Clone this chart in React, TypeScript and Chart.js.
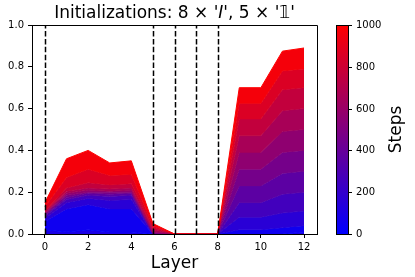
import React, { useEffect, useRef } from "react";
import { Chart, registerables } from "chart.js";

Chart.register(...registerables);

// ---- data ----
const LAYERS = [0, 1, 2, 3, 4, 5, 6, 7, 8, 9, 10, 11, 12];
const STEPS = [0, 100, 200, 300, 400, 500, 600, 700, 800, 900, 1000];

// one profile (value per layer) for each training-step snapshot
const STEP_0 = [0.02, 0.01, 0.02, 0.01, 0.01, 0, 0, 0, 0, 0.0, 0.0, 0.0, 0.01];
const STEP_100 = [0.06, 0.12, 0.14, 0.12, 0.12, 0, 0, 0, 0, 0.02, 0.02, 0.03, 0.04];
const STEP_200 = [0.075, 0.15, 0.17, 0.16, 0.165, 0, 0, 0, 0, 0.08, 0.08, 0.1, 0.11];
const STEP_300 = [0.085, 0.165, 0.185, 0.18, 0.185, 0, 0, 0, 0, 0.15, 0.15, 0.19, 0.2];
const STEP_400 = [0.09, 0.175, 0.195, 0.19, 0.195, 0, 0, 0, 0, 0.23, 0.23, 0.29, 0.3];
const STEP_500 = [0.095, 0.185, 0.2, 0.2, 0.2, 0.005, 0, 0, 0, 0.31, 0.31, 0.39, 0.4];
const STEP_600 = [0.1, 0.195, 0.21, 0.205, 0.21, 0.01, 0, 0, 0, 0.39, 0.39, 0.49, 0.5];
const STEP_700 = [0.105, 0.205, 0.22, 0.215, 0.22, 0.02, 0, 0, 0, 0.47, 0.47, 0.59, 0.6];
const STEP_800 = [0.11, 0.22, 0.245, 0.235, 0.24, 0.03, 0, 0, 0, 0.55, 0.55, 0.69, 0.7];
const STEP_900 = [0.13, 0.27, 0.31, 0.28, 0.285, 0.04, 0, 0, 0, 0.625, 0.625, 0.78, 0.79];
const STEP_1000 = [0.15, 0.36, 0.4, 0.34, 0.35, 0.05, 0, 0, 0, 0.7, 0.7, 0.875, 0.89];

const PROFILES = [
  STEP_0, STEP_100, STEP_200, STEP_300, STEP_400, STEP_500,
  STEP_600, STEP_700, STEP_800, STEP_900, STEP_1000,
];

const X_TICKS = [0, 2, 4, 6, 8, 10, 12];
const Y_TICKS = [0, 0.2, 0.4, 0.6, 0.8, 1.0];
const CBAR_TICKS = [0, 200, 400, 600, 800, 1000];
const DASHED_LAYERS = [0, 5, 6, 7, 8];
const MAX_STEP = 1000;

const FONT = "'DejaVu Sans', sans-serif";

function cmap(t: number): string {
  const c = Math.max(0, Math.min(1, t));
  return `rgb(${Math.round(255 * c)},0,${Math.round(255 * (1 - c))})`;
}

const decorPlugin = {
  id: "decor",
  afterDatasetsDraw(chart: any) {
    const { ctx, chartArea, scales } = chart;
    const xs = scales.x;
    ctx.save();
    ctx.beginPath();
    ctx.rect(chartArea.left, chartArea.top, chartArea.right - chartArea.left, chartArea.bottom - chartArea.top);
    ctx.clip();
    ctx.strokeStyle = "#000";
    ctx.lineWidth = 1.5;
    ctx.setLineDash([5.5, 2.4]);
    for (const l of DASHED_LAYERS) {
      const px = Math.round(xs.getPixelForValue(l)) + 0.5;
      ctx.beginPath();
      ctx.moveTo(px, chartArea.bottom);
      ctx.lineTo(px, chartArea.top);
      ctx.stroke();
    }
    ctx.restore();
  },
  afterDraw(chart: any) {
    const { ctx, chartArea } = chart;
    ctx.save();
    // top & right spines
    ctx.strokeStyle = "#000";
    ctx.lineWidth = 1;
    ctx.beginPath();
    ctx.moveTo(chartArea.left, chartArea.top + 0.5);
    ctx.lineTo(chartArea.right + 0.5, chartArea.top + 0.5);
    ctx.lineTo(chartArea.right + 0.5, chartArea.bottom);
    ctx.stroke();

    // title
    const cx = (chartArea.left + chartArea.right) / 2;
    const parts: [string, string][] = [
      ["Initializations: 8 × '", "normal"],
      ["I", "italic"],
      ["', 5 × '", "normal"],
      ["\u{1D7D9}", "normal"],
      ["'", "normal"],
    ];
    ctx.fillStyle = "#000";
    ctx.textBaseline = "alphabetic";
    ctx.textAlign = "left";
    let total = 0;
    const widths: number[] = [];
    for (const [s, st] of parts) {
      ctx.font = `${st} 17px ${FONT}`;
      const w = ctx.measureText(s).width;
      widths.push(w);
      total += w;
    }
    let x = cx - total / 2;
    parts.forEach(([s, st], i) => {
      ctx.font = `${st} 17px ${FONT}`;
      ctx.fillText(s, x, 18);
      x += widths[i];
    });

    // x label
    ctx.font = `17px ${FONT}`;
    ctx.textAlign = "center";
    ctx.fillText("Layer", cx, 268);

    // colorbar
    const cbL = 336, cbR = 348, cbT = chartArea.top, cbB = chartArea.bottom;
    const g = ctx.createLinearGradient(0, cbB, 0, cbT);
    g.addColorStop(0, cmap(0));
    g.addColorStop(0.5, cmap(0.5));
    g.addColorStop(1, cmap(1));
    ctx.fillStyle = g;
    ctx.fillRect(cbL, cbT, cbR - cbL, cbB - cbT);
    ctx.strokeStyle = "#000";
    ctx.lineWidth = 1;
    ctx.strokeRect(cbL + 0.5, cbT + 0.5, cbR - cbL, cbB - cbT);
    ctx.font = `10px ${FONT}`;
    ctx.textAlign = "left";
    ctx.textBaseline = "middle";
    ctx.fillStyle = "#000";
    for (const t of CBAR_TICKS) {
      const py = Math.round(cbB - (t / MAX_STEP) * (cbB - cbT)) + 0.5;
      ctx.beginPath();
      ctx.moveTo(cbR, py);
      ctx.lineTo(cbR + 4, py);
      ctx.stroke();
      ctx.fillText(String(t), cbR + 8, py);
    }
    ctx.save();
    ctx.translate(397, (cbT + cbB) / 2);
    ctx.rotate(-Math.PI / 2);
    ctx.font = `17px ${FONT}`;
    ctx.textAlign = "center";
    ctx.textBaseline = "middle";
    ctx.fillText("Steps", 0, 0);
    ctx.restore();
    ctx.restore();
  },
};

export default function App() {
  const ref = useRef<HTMLCanvasElement | null>(null);
  useEffect(() => {
    if (!ref.current) return;
    const datasets = PROFILES.map((vals, i) => ({
      data: vals.map((v, j) => ({ x: LAYERS[j], y: v })),
      borderColor: cmap(STEPS[i] / MAX_STEP),
      backgroundColor: cmap(i === 0 ? 0.1 : (STEPS[i] - 40) / MAX_STEP),
      borderWidth: 1,
      pointRadius: 0,
      tension: 0,
      fill: i === 0 ? "origin" : "-1",
      order: PROFILES.length - i,
    }));
    const chart = new Chart(ref.current, {
      type: "line",
      data: { datasets } as any,
      plugins: [decorPlugin],
      options: {
        animation: false,
        responsive: false,
        devicePixelRatio: 1,
        layout: { padding: { top: 25, right: 98, left: 0, bottom: 0 } },
        plugins: { legend: { display: false }, tooltip: { enabled: false } },
        scales: {
          x: {
            type: "linear",
            min: -0.6,
            max: 12.6,
            afterBuildTicks: (s: any) => { s.ticks = X_TICKS.map((v) => ({ value: v })); },
            afterFit: (s: any) => { s.height = 43; },
            grid: { drawOnChartArea: false, drawTicks: true, tickLength: 4, color: "#000" },
            border: { display: true, color: "#000", width: 1 },
            ticks: { color: "#000", font: { family: FONT, size: 10 }, padding: 3, maxRotation: 0, callback: (v: any) => String(v) },
          },
          y: {
            type: "linear",
            min: 0,
            max: 1,
            afterBuildTicks: (s: any) => { s.ticks = Y_TICKS.map((v) => ({ value: v })); },
            afterFit: (s: any) => { s.width = 32; },
            grid: { drawOnChartArea: false, drawTicks: true, tickLength: 4, color: "#000" },
            border: { display: true, color: "#000", width: 1 },
            ticks: { color: "#000", font: { family: FONT, size: 10 }, padding: 4, callback: (v: any) => Number(v).toFixed(1) },
          },
        },
      } as any,
    });
    return () => chart.destroy();
  }, []);
  return (
    <div style={{ position: "absolute", left: 0, top: 0, width: 415, height: 277, background: "#fff" }}>
      <canvas ref={ref} width={415} height={277} style={{ width: 415, height: 277, display: "block" }} />
    </div>
  );
}
